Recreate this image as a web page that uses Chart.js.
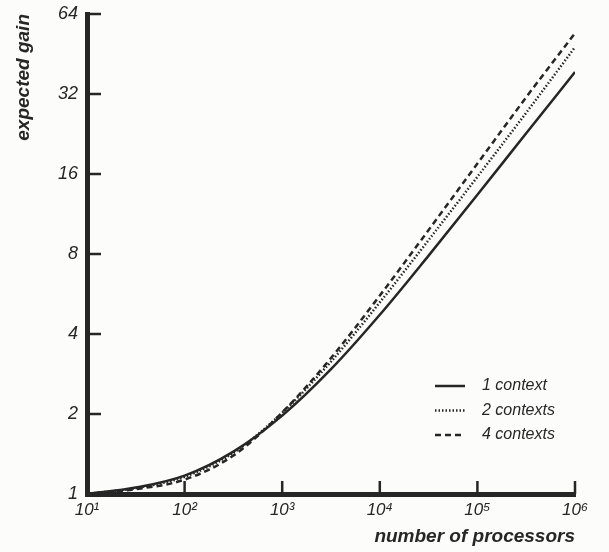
<!DOCTYPE html>
<html>
<head>
<meta charset="utf-8">
<script src="https://cdn.jsdelivr.net/npm/chart.js@4"></script>
<style>
  html, body { margin: 0; background: #fcfcfa; }
</style>
</head>
<body>
<canvas id="c" width="609" height="552"></canvas>
<script>
// values
const processors = [10, 31.6, 100, 316, 1000, 3162, 10000, 31623, 100000, 316228, 1000000];
const gain1 = [1, 1.057, 1.173, 1.444, 1.972, 2.948, 4.724, 7.89, 13.36, 22.78, 38.7];
const gain2 = [1, 1.053, 1.161, 1.429, 2.021, 3.149, 5.26, 9.03, 15.62, 27.2, 48.0];
const gain4 = [1, 1.043, 1.133, 1.395, 2.028, 3.249, 5.579, 9.849, 17.51, 31.12, 54.2];
const seriesNames = ["1 context", "2 contexts", "4 contexts"];
const xTicks = [10, 100, 1000, 10000, 100000, 1000000];
const xTickLabels = ["10¹", "10²", "10³", "10⁴", "10⁵", "10⁶"];
const yTicks = [1, 2, 4, 8, 16, 32, 64];

const ink = "#262626";
const family = "'Liberation Sans', Arial, sans-serif";

const line = (label, values, dash) => ({
  label,
  data: processors.map((n, i) => ({ x: n, y: values[i] })),
  borderColor: ink,
  borderWidth: 2.5,
  borderDash: dash,
  pointRadius: 0,
  fill: false,
  cubicInterpolationMode: "monotone",
});

// short tick marks pointing into the plot, plus the legend box
const decor = {
  id: "decor",
  afterDatasetsDraw(chart) {
    const { ctx, chartArea: area, scales: { x, y } } = chart;
    ctx.save();
    ctx.strokeStyle = ink;
    ctx.lineWidth = 2.5;
    ctx.setLineDash([]);
    y.ticks.forEach((t) => {
      if (t.value === yTicks[0]) return;
      const py = y.getPixelForValue(t.value);
      ctx.beginPath();
      ctx.moveTo(area.left, py);
      ctx.lineTo(area.left + 14, py);
      ctx.stroke();
    });
    x.ticks.forEach((t) => {
      if (t.value === xTicks[0]) return;
      const px = x.getPixelForValue(t.value);
      ctx.beginPath();
      ctx.moveTo(px, area.bottom);
      ctx.lineTo(px, area.bottom - 13);
      ctx.stroke();
    });

    const x0 = area.right - 140;
    ctx.font = `italic 16px ${family}`;
    ctx.fillStyle = ink;
    ctx.textBaseline = "middle";
    chart.data.datasets.forEach((ds, i) => {
      const ly = area.bottom - 108 + i * 24.5;
      ctx.setLineDash(ds.borderDash || []);
      ctx.lineWidth = ds.borderWidth;
      ctx.beginPath();
      ctx.moveTo(x0, ly);
      ctx.lineTo(x0 + 30, ly);
      ctx.stroke();
      ctx.fillText(ds.label, x0 + 47, ly);
    });
    ctx.restore();
  },
};

new Chart(document.getElementById("c"), {
  type: "line",
  data: {
    datasets: [
      line(seriesNames[0], gain1, []),
      line(seriesNames[1], gain2, [1.5, 2]),
      line(seriesNames[2], gain4, [6, 4]),
    ],
  },
  options: {
    responsive: false,
    animation: false,
    layout: { padding: { top: 14, right: 34, left: 0, bottom: 0 } },
    plugins: {
      legend: { display: false },
      tooltip: { enabled: false },
    },
    scales: {
      x: {
        type: "logarithmic",
        min: 10,
        max: 1000000,
        afterBuildTicks: (s) => { s.ticks = xTicks.map((v) => ({ value: v })); },
        afterFit: (s) => { s.height = 58; },
        grid: { display: false },
        border: { display: true, width: 5, color: ink },
        ticks: {
          color: ink,
          padding: -2,
          maxRotation: 0,
          font: { family, style: "italic", size: 17 },
          callback: (v) => xTickLabels[xTicks.indexOf(v)],
        },
        title: {
          display: true,
          text: "number of processors",
          align: "end",
          color: ink,
          padding: { top: 4, bottom: 4 },
          font: { family, style: "italic", weight: "bold", size: 19 },
        },
      },
      y: {
        type: "logarithmic",
        min: 1,
        max: 64,
        afterBuildTicks: (s) => { s.ticks = yTicks.map((v) => ({ value: v })); },
        afterFit: (s) => { s.width = 87; },
        grid: { display: false },
        border: { display: true, width: 5, color: ink },
        ticks: {
          color: ink,
          padding: 1,
          font: { family, style: "italic", size: 18 },
          callback: (v) => String(v),
        },
        title: {
          display: true,
          text: "expected gain",
          align: "end",
          color: ink,
          padding: { top: 12, bottom: 0 },
          font: { family, style: "italic", weight: "bold", size: 19 },
        },
      },
    },
  },
  plugins: [decor],
});
</script>
</body>
</html>
